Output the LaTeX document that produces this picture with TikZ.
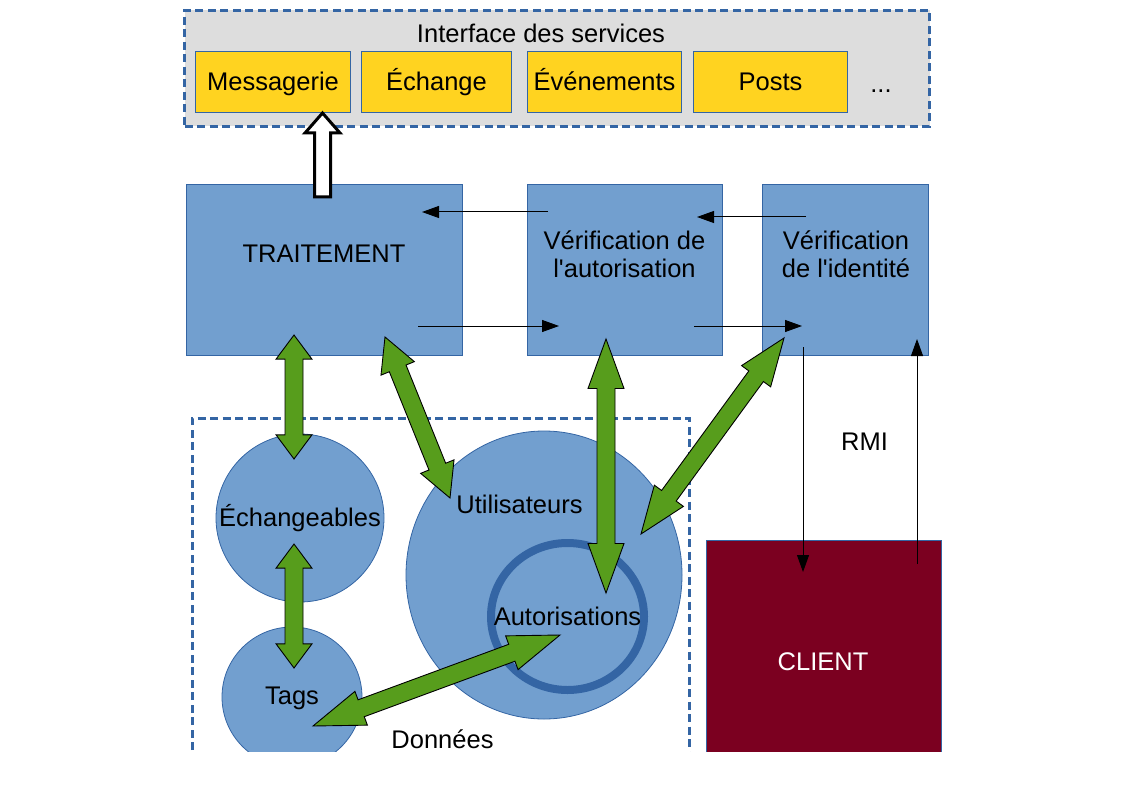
\documentclass[tikz,border=0pt]{standalone}
\usepackage{fontspec}
\setmainfont{Liberation Sans}
\usetikzlibrary{calc,arrows.meta,shapes.geometric}
\definecolor{bfill}{HTML}{729FCF}
\definecolor{bline}{HTML}{3465A4}
\definecolor{ggreen}{HTML}{579D1C}
\definecolor{yfill}{HTML}{FFD320}
\definecolor{clientred}{HTML}{7B0020}
\definecolor{lgray}{HTML}{DDDDDD}
\tikzset{
  txt/.style={inner sep=0pt, font=\fontsize{25.5}{28.5}\selectfont, text height=23.1pt, text depth=5.4pt},
  mtxt/.style={inner sep=0pt, font=\fontsize{25.5}{28.5}\selectfont, align=center},
  box/.style={draw=bline, line width=1pt, fill=bfill, anchor=north west, inner sep=0pt},
  ybox/.style={draw=bline, line width=1pt, fill=yfill, anchor=north west, inner sep=0pt, minimum height=61pt,
     font=\fontsize{25.5}{28.5}\selectfont, text height=23.1pt, text depth=5.4pt},
  dashbox/.style={draw=bline, line width=3pt, dash pattern=on 8pt off 4.5pt},
  blob/.style={ellipse, draw=bline, line width=0.8pt, fill=bfill, inner sep=0pt},
  garrow/.style={draw=black, line width=0.9pt, fill=ggreen, line join=miter},
  harrow/.style={draw=black, line width=3pt, fill=white, line join=miter},
  karrow/.style={draw=black, line width=1pt, -{Triangle[length=17pt,width=12pt]}},
}
\newcommand\dbarrow[2]{%
  \draw[garrow] (#1)
   -- ($(#1)!0.195!(#2)!18pt!90:(#2)$)
   -- ($(#1)!0.195!(#2)!9pt!90:(#2)$)
   -- ($(#2)!0.195!(#1)!9pt!-90:(#1)$)
   -- ($(#2)!0.195!(#1)!18pt!-90:(#1)$)
   -- (#2)
   -- ($(#2)!0.195!(#1)!18pt!90:(#1)$)
   -- ($(#2)!0.195!(#1)!9pt!90:(#1)$)
   -- ($(#1)!0.195!(#2)!9pt!-90:(#2)$)
   -- ($(#1)!0.195!(#2)!18pt!-90:(#2)$)
   -- cycle;}
\begin{document}
\begin{tikzpicture}[x=1pt,y=-1pt]
\useasboundingbox (0,0) rectangle (1123,794);
\begin{scope}
\clip (0,0) rectangle (1123,751);
% service interface
\node[dashbox, fill=lgray, anchor=north west, minimum width=745pt, minimum height=116pt] (iface) at (183,9) {};
\node[txt] (ifacelbl) at (541,33.5) {Interface des services};
\node[ybox, minimum width=155pt] (msg) at (195,51) {Messagerie};
\node[ybox, minimum width=150pt] (ech) at (361,51) {Échange};
\node[ybox, minimum width=154pt] (evt) at (527,51) {Événements};
\node[ybox, minimum width=154pt] (posts) at (693,51) {Posts};
\node[inner sep=0pt, font=\fontsize{25.5}{28.5}\selectfont, anchor=base] (dots) at (881,93) {...};
% processing boxes
\node[box, minimum width=276pt, minimum height=171pt] (trait) at (186,184) {};
\node[box, minimum width=195pt, minimum height=171pt] (vaut) at (527,184) {};
\node[box, minimum width=166pt, minimum height=171pt] (vid) at (762,184) {};
\node[txt] (traitlbl) at (324,254) {TRAITEMENT};
\node[mtxt] (vautlbl) at (624.5,254) {Vérification de\\l\textquotesingle autorisation};
\node[mtxt] (vidlbl) at (846,254) {Vérification\\de l\textquotesingle identité};
% client
\node[box, draw=bline, fill=clientred, minimum width=235pt, minimum height=225pt] (client) at (706,540) {};
\node[txt, text=white] (clientlbl) at (823,661.5) {CLIENT};
\node[txt] (rmi) at (864.5,442) {RMI};
% data
\draw[dashbox] (192,800) -- (192,418) -- (689,418) -- (689,800);
\node[blob, minimum width=168pt, minimum height=168pt] (echg) at (300,518) {};
\node[blob, minimum width=140pt, minimum height=140pt] (tags) at (292,697) {};
\node[blob, minimum width=276pt, minimum height=288pt] (util) at (544,575) {};
\node[ellipse, draw=bline, line width=8pt, fill=bfill, inner sep=0pt, minimum width=153pt, minimum height=147pt] (autor) at (567.5,616.5) {};
\node[txt] (echglbl) at (300,518) {Échangeables};
\node[txt] (tagslbl) at (292,696) {Tags};
\node[txt] (utillbl) at (519.5,505) {Utilisateurs};
\node[txt] (autorlbl) at (567.5,617) {Autorisations};
\node[txt] (donnees) at (442.5,740) {Données};
% black arrows
\coordinate (k1a) at (548,212); \coordinate (k1b) at (422,212);
\coordinate (k2a) at (806,217); \coordinate (k2b) at (697,217);
\coordinate (k3a) at (418,326); \coordinate (k3b) at (559,326);
\coordinate (k4a) at (694,326); \coordinate (k4b) at (802,326);
\coordinate (k5a) at (803,347); \coordinate (k5b) at (803,572);
\coordinate (k6a) at (917,564); \coordinate (k6b) at (917,339);
\draw[karrow] (k1a) -- (k1b);
\draw[karrow] (k2a) -- (k2b);
\draw[karrow] (k3a) -- (k3b);
\draw[karrow] (k4a) -- (k4b);
\draw[karrow] (k5a) -- (k5b);
\draw[karrow] (k6a) -- (k6b);
% hollow arrow
\coordinate (ha) at (322.5,197); \coordinate (hb) at (322.5,113);
\draw[harrow] (hb) -- ($(hb)!20pt!(ha)!17.5pt!90:(ha)$) -- ($(hb)!20pt!(ha)!8pt!90:(ha)$)
  -- ($(ha)!8pt!-90:(hb)$) -- ($(ha)!8pt!90:(hb)$)
  -- ($(hb)!20pt!(ha)!8pt!-90:(ha)$) -- ($(hb)!20pt!(ha)!17.5pt!-90:(ha)$) -- cycle;
% green arrows
\coordinate (g1a) at (294,335); \coordinate (g1b) at (294,459);
\coordinate (g2a) at (385,337); \coordinate (g2b) at (450,498);
\coordinate (g3a) at (606,339); \coordinate (g3b) at (606,593);
\coordinate (g4a) at (784,338); \coordinate (g4b) at (641,534);
\coordinate (g5a) at (294,544); \coordinate (g5b) at (294,668);
\coordinate (g6a) at (313,726); \coordinate (g6b) at (560,635);
\dbarrow{g1a}{g1b}
\dbarrow{g2a}{g2b}
\dbarrow{g3a}{g3b}
\dbarrow{g4a}{g4b}
\dbarrow{g5a}{g5b}
\dbarrow{g6a}{g6b}
\end{scope}
\end{tikzpicture}
\end{document}
